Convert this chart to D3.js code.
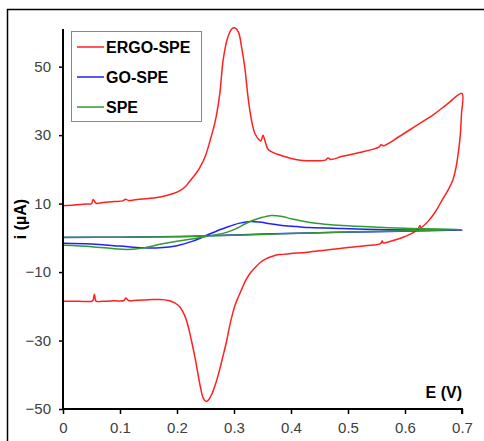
<!DOCTYPE html>
<html>
<head>
<meta charset="utf-8">
<script src="https://cdn.jsdelivr.net/npm/d3@7"></script>
<style>
  body { margin: 0; background: #fff; }
  svg { display: block; font-family: "Liberation Sans", Arial, sans-serif; }
</style>
</head>
<body>
<svg id="chart" width="484" height="441"></svg>
<script>
// cyclic voltammograms, E (V) vs i (uA)
const seriesNames = ["ERGO-SPE", "GO-SPE", "SPE"];
const seriesColors = ["#ff2020", "#2020ff", "#339933"];

const xTicks = [0, 0.1, 0.2, 0.3, 0.4, 0.5, 0.6, 0.7];
const yTicks = [-50, -30, -10, 10, 30, 50];

// ERGO-SPE: anodic branch then cathodic branch
const ergoForward = [
  [0, 9.4], [0.02, 9.6], [0.04, 9.9], [0.05, 10.0], [0.053, 11.2], [0.058, 10.1],
  [0.07, 10.3], [0.09, 10.6], [0.105, 10.8], [0.11, 11.3], [0.115, 10.9], [0.13, 11.2],
  [0.15, 11.5], [0.165, 11.8], [0.18, 12.3], [0.195, 13.0], [0.205, 13.8], [0.215, 15.0],
  [0.223, 16.7], [0.232, 18.5], [0.24, 20.5], [0.25, 24], [0.258, 28.4], [0.267, 34],
  [0.275, 42], [0.281, 52], [0.289, 58.5], [0.296, 61], [0.302, 61.3], [0.308, 60],
  [0.313, 56], [0.319, 49.7], [0.324, 42], [0.328, 37], [0.333, 32.5], [0.337, 30.4],
  [0.343, 28.8], [0.347, 28.3], [0.351, 30], [0.354, 28.5], [0.36, 25.8], [0.37, 24.8],
  [0.38, 24.2], [0.40, 23.2], [0.42, 22.6], [0.44, 22.5], [0.46, 22.7], [0.465, 23.3],
  [0.47, 22.9], [0.49, 23.8], [0.52, 24.9], [0.555, 26.6], [0.558, 27.2], [0.562, 26.9],
  [0.59, 29.6], [0.62, 32.8], [0.65, 36.0], [0.675, 39.2], [0.7, 42.2]
];
const ergoReverse = [
  [0.7, 42.2], [0.699, 36], [0.697, 30], [0.694, 25.5], [0.69, 21], [0.684, 16.9],
  [0.675, 13.8], [0.665, 11.0], [0.658, 8.9], [0.65, 6.8], [0.642, 5.1], [0.635, 3.9],
  [0.628, 3.0], [0.626, 3.6], [0.623, 2.6], [0.612, 1.3], [0.6, 0.4], [0.591, -0.2],
  [0.575, -1.0], [0.562, -1.5], [0.56, -0.9], [0.557, -1.7], [0.53, -2.3], [0.5, -2.8],
  [0.486, -3.1], [0.46, -3.6], [0.429, -4.2], [0.4, -4.6], [0.38, -4.9], [0.369, -5.3],
  [0.355, -6.2], [0.346, -7.2], [0.338, -8.5], [0.328, -10.4], [0.32, -12.6], [0.313, -15.2],
  [0.307, -17.5], [0.302, -19.6], [0.297, -22.5], [0.292, -26], [0.287, -30.2], [0.28, -35],
  [0.274, -39], [0.268, -42.5], [0.262, -45.3], [0.256, -47.2], [0.251, -47.8], [0.246, -46.8],
  [0.241, -43.5], [0.236, -39], [0.231, -34.5], [0.226, -30.5], [0.221, -26.8], [0.216, -23.8],
  [0.21, -21.5], [0.204, -20], [0.196, -19], [0.185, -18.3], [0.17, -18.0], [0.15, -18.1],
  [0.13, -18.2], [0.115, -18.3], [0.11, -17.6], [0.107, -18.3], [0.09, -18.4], [0.07, -18.5],
  [0.058, -18.5], [0.055, -16.5], [0.052, -18.4], [0.04, -18.6], [0.02, -18.5], [0, -18.5]
];

// GO-SPE
const goHump = [
  [0, -1.6], [0.05, -1.8], [0.1, -2.4], [0.14, -2.9], [0.17, -2.9], [0.2, -2.3],
  [0.229, -0.9], [0.258, 1.2], [0.287, 3.1], [0.31, 4.3], [0.33, 4.8], [0.345, 4.6],
  [0.363, 4.1], [0.381, 3.7], [0.41, 3.3], [0.433, 3.0], [0.49, 2.7], [0.55, 2.45],
  [0.61, 2.3], [0.7, 2.3]
];
const goFlat = [
  [0.7, 2.3], [0.55, 1.8], [0.45, 1.5], [0.35, 1.1], [0.25, 0.6], [0.2, 0.4],
  [0.1, 0.2], [0, 0.1]
];

// SPE
const speHump = [
  [0, -2.2], [0.05, -2.6], [0.09, -3.2], [0.114, -3.4], [0.14, -3.0], [0.17, -1.9],
  [0.2, -1.0], [0.229, -0.3], [0.258, 0.6], [0.287, 1.6], [0.305, 2.8], [0.32, 4.1],
  [0.335, 5.2], [0.35, 6.0], [0.366, 6.5], [0.385, 6.2], [0.402, 5.5], [0.433, 4.5],
  [0.46, 4.0], [0.49, 3.6], [0.55, 3.1], [0.61, 2.7], [0.7, 2.4]
];
const speFlat = [
  [0.7, 2.4], [0.55, 1.9], [0.45, 1.5], [0.35, 1.0], [0.25, 0.5], [0.2, 0.3],
  [0.1, 0.2], [0, 0.2]
];

const curves = [
  ergoForward.concat(ergoReverse.slice(1)),
  goHump.concat(goFlat.slice(1)),
  speHump.concat(speFlat.slice(1))
];

const svg = d3.select("#chart");

// outer frame (runs off the picture at right and bottom)
svg.append("rect")
  .attr("x", 7.5).attr("y", 9.5)
  .attr("width", 600).attr("height", 600)
  .attr("fill", "none")
  .attr("stroke", "#000")
  .attr("stroke-width", 1.5);

const x = d3.scaleLinear().domain([0, 0.7]).range([63, 462]);
const y = d3.scaleLinear().domain([-50, 61]).range([409, 29]);

const line = d3.line()
  .x(d => x(d[0]))
  .y(d => y(d[1]))
  .curve(d3.curveCatmullRom.alpha(0.5));

curves.forEach((c, i) => {
  svg.append("path")
    .datum(c)
    .attr("d", line)
    .attr("fill", "none")
    .attr("stroke", seriesColors[i])
    .attr("stroke-width", 1.5)
    .attr("stroke-linejoin", "round");
});

// axes
const gX = svg.append("g")
  .attr("transform", "translate(0," + y(-50) + ")")
  .call(d3.axisBottom(x).tickValues(xTicks).tickSize(5).tickPadding(8)
    .tickFormat(d => d === 0 ? "0" : d3.format(".1f")(d)));

const gY = svg.append("g")
  .attr("transform", "translate(" + x(0) + ",0)")
  .call(d3.axisLeft(y).tickValues(yTicks).tickSize(4).tickPadding(8));

[gX, gY].forEach(g => {
  g.select(".domain").attr("stroke", "#000").attr("stroke-width", 2);
  g.selectAll(".tick line").attr("stroke", "#000").attr("stroke-width", 1.5);
  g.selectAll(".tick text")
    .attr("fill", "#404040")
    .style("font-size", "15px")
    .style("font-family", "'Liberation Sans', Arial, sans-serif");
});
gX.select(".domain").attr("d", "M" + x(0) + ",0H" + x(0.7) + "V5");
gY.select(".domain").attr("d", "M0," + y(61) + "V" + y(-50));

// axis titles
svg.append("text")
  .attr("x", x(0.7))
  .attr("y", 398)
  .attr("text-anchor", "end")
  .style("font-size", "16px")
  .style("font-weight", "bold")
  .text("E (V)");

svg.append("text")
  .attr("transform", "translate(26,219) rotate(-90)")
  .attr("text-anchor", "middle")
  .style("font-size", "16px")
  .style("font-weight", "bold")
  .text("i (µA)");

// legend
const legend = svg.append("g");
legend.append("rect")
  .attr("x", 71.5).attr("y", 31.5)
  .attr("width", 130).attr("height", 90)
  .attr("fill", "#fff")
  .attr("stroke", "#888")
  .attr("stroke-width", 1);

seriesNames.forEach((name, i) => {
  const ly = 47 + i * 30;
  legend.append("line")
    .attr("x1", 77).attr("x2", 104)
    .attr("y1", ly).attr("y2", ly)
    .attr("stroke", seriesColors[i])
    .attr("stroke-width", 1.5);
  legend.append("text")
    .attr("x", 106)
    .attr("y", ly + 6)
    .style("font-size", "16px")
    .style("font-weight", "bold")
    .text(name);
});
</script>
</body>
</html>
